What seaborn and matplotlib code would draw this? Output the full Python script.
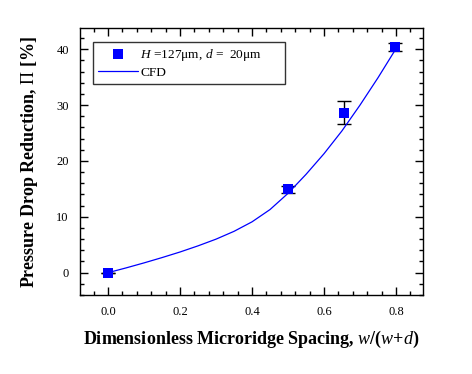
import matplotlib
matplotlib.use("Agg")
import matplotlib.pyplot as plt
import seaborn as sns
import pandas as pd
from matplotlib.ticker import MultipleLocator

# Experimental data
exp_x = [0.0, 0.5, 0.656, 0.797]
exp_y = [0.0, 14.9, 28.6, 40.4]
exp_err = [0.0, 0.6, 2.05, 0.75]

# CFD curve
cfd_x = [0.0, 0.05, 0.1, 0.15, 0.2, 0.25, 0.3, 0.35, 0.4, 0.45, 0.5, 0.55, 0.6, 0.65, 0.7, 0.75, 0.8]
cfd_y = [0.0, 0.85, 1.75, 2.7, 3.7, 4.8, 6.0, 7.4, 9.1, 11.3, 14.2, 17.6, 21.3, 25.4, 30.0, 34.9, 40.1]

sns.set_style("ticks")
plt.rcParams['font.family'] = ['Liberation Serif', 'DejaVu Serif']
plt.rcParams['mathtext.fontset'] = 'custom'
plt.rcParams['mathtext.rm'] = 'Liberation Serif'
plt.rcParams['mathtext.it'] = 'Liberation Serif:italic'
plt.rcParams['mathtext.bf'] = 'Liberation Serif:bold'
plt.rcParams['text.color'] = 'black'
plt.rcParams['axes.labelcolor'] = 'black'

fig = plt.figure(figsize=(4.72, 3.74), dpi=100)
ax = fig.add_axes([80/472, 1-295/374, 343/472, 267/374])

df_cfd = pd.DataFrame({"x": cfd_x, "y": cfd_y})
df_exp = pd.DataFrame({"x": exp_x, "y": exp_y})

ax.errorbar(exp_x, exp_y, yerr=exp_err, fmt='none', ecolor='black',
            elinewidth=1, capsize=5, capthick=1, zorder=2)
sns.lineplot(data=df_cfd, x="x", y="y", ax=ax, color="blue", linewidth=0.9,
             label="CFD", zorder=3)
sns.scatterplot(data=df_exp, x="x", y="y", ax=ax, marker="s", s=45,
                color="blue", edgecolor="blue", linewidth=0,
                label=r"$H$ =127$\mathrm{\mu}$m, $d$ =  20$\mathrm{\mu}$m", zorder=4)

ax.set_xlim(-0.078, 0.875)
ax.set_ylim(-4.0, 43.8)
ax.xaxis.set_major_locator(MultipleLocator(0.2))
ax.xaxis.set_minor_locator(MultipleLocator(0.04))
ax.yaxis.set_major_locator(MultipleLocator(10))
ax.yaxis.set_minor_locator(MultipleLocator(2))
ax.set_xticks([0.0, 0.2, 0.4, 0.6, 0.8])
ax.set_xticklabels(["0.0", "0.2", "0.4", "0.6", "0.8"])
ax.tick_params(which='both', direction='in', top=True, right=True,
               colors='black', labelsize=9, width=1)
ax.tick_params(which='major', length=6, pad=8)
ax.tick_params(which='minor', length=3)
for s in ax.spines.values():
    s.set_color('black')
    s.set_linewidth(1)

ax.set_xlabel(r"Dimensionless Microridge Spacing, $w$/($w$+$d$)",
              fontsize=13, fontweight='bold', labelpad=8)
ax.set_ylabel("Pressure Drop Reduction, $\\mathit{Π}$ [%]",
              fontsize=13, fontweight='bold', labelpad=12)

handles, labels = ax.get_legend_handles_labels()
order = [1, 0]
leg = ax.legend([handles[i] for i in order], [labels[i] for i in order],
                loc='upper left', bbox_to_anchor=(0.038, 0.795, 0.56, 0.153),
                mode='expand',
                fancybox=False, frameon=True, edgecolor='black',
                fontsize=9.6, handlelength=3, borderpad=0.35,
                labelspacing=0.3, handletextpad=0.2, borderaxespad=0)
leg.get_frame().set_linewidth(1)

fig.savefig("out.png", dpi=100)
